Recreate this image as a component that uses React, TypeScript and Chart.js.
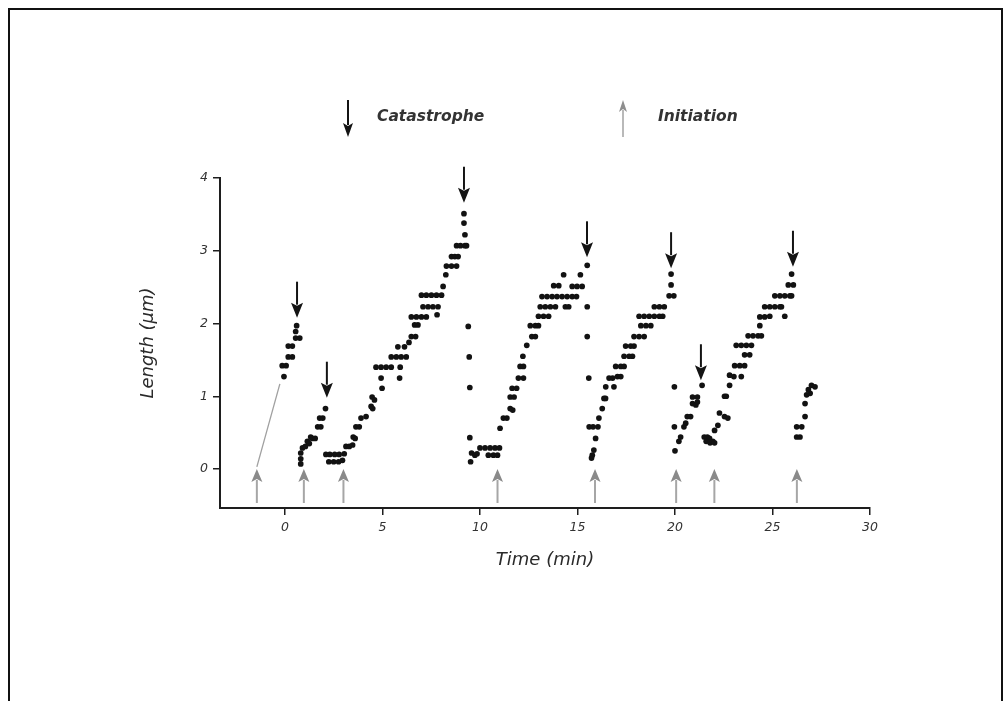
import React, { useEffect, useRef } from "react";
import { Chart, registerables } from "chart.js";

Chart.register(...registerables);

type Pt = [number, number];

// ---- text / axis data ----
const xTicks = [0, 5, 10, 15, 20, 25, 30];
const yTicks = [0, 1, 2, 3, 4];
const xTitle = "Time (min)";
const yTitle = "Length (µm)";
const legendLabels = ["Catastrophe", "Initiation"];

// ---- growth phases: [time (min), length (µm)] ----
const growth1: Pt[] = [
  [-0.05, 1.27], [-0.14, 1.42], [0.06, 1.42], [0.17, 1.54], [0.38, 1.54],
  [0.17, 1.69], [0.38, 1.69], [0.55, 1.8], [0.76, 1.8], [0.55, 1.89], [0.6, 1.97],
];

const growth2: Pt[] = [
  [0.81, 0.07], [0.81, 0.14], [0.81, 0.22], [0.9, 0.29], [1.05, 0.31],
  [1.15, 0.38], [1.25, 0.35], [1.32, 0.44], [1.4, 0.42], [1.55, 0.42],
  [1.68, 0.58], [1.84, 0.58], [1.78, 0.7], [1.94, 0.7], [2.08, 0.83],
];

const growth3: Pt[] = [
  [2.1, 0.2], [2.3, 0.2], [2.55, 0.2], [2.78, 0.2], [2.25, 0.1], [2.5, 0.1],
  [2.75, 0.1], [2.95, 0.12], [3.04, 0.21], [3.13, 0.31], [3.3, 0.31], [3.47, 0.33],
  [3.5, 0.44], [3.6, 0.42], [3.64, 0.58], [3.81, 0.58], [3.9, 0.7], [4.16, 0.72],
  [4.42, 0.86], [4.5, 0.83], [4.47, 0.99], [4.59, 0.95], [4.98, 1.11], [4.93, 1.25],
  [5.88, 1.25], [4.67, 1.4], [4.93, 1.4], [5.19, 1.4], [5.45, 1.4], [5.91, 1.4],
  [5.45, 1.54], [5.71, 1.54], [5.96, 1.54], [6.22, 1.54], [5.79, 1.68], [6.13, 1.68],
  [6.36, 1.74], [6.48, 1.82], [6.7, 1.82], [6.65, 1.98], [6.82, 1.98], [6.48, 2.09],
  [6.74, 2.09], [7.0, 2.09], [7.25, 2.09], [7.8, 2.12], [7.08, 2.23], [7.34, 2.23],
  [7.59, 2.23], [7.85, 2.23], [7.0, 2.39], [7.25, 2.39], [7.51, 2.39], [7.77, 2.39],
  [8.03, 2.39], [8.11, 2.51], [8.25, 2.67], [8.28, 2.79], [8.54, 2.79], [8.8, 2.79],
  [8.54, 2.92], [8.71, 2.92], [8.88, 2.92], [8.8, 3.07], [9.0, 3.07], [9.23, 3.07],
  [9.31, 3.07], [9.23, 3.22], [9.18, 3.38], [9.18, 3.51],
];

const shrink3: Pt[] = [[9.4, 1.96], [9.45, 1.54], [9.48, 1.12], [9.48, 0.43]];

const growth4: Pt[] = [
  [9.52, 0.1], [9.57, 0.22], [9.74, 0.19], [9.85, 0.21], [10.0, 0.29], [10.26, 0.29],
  [10.52, 0.29], [10.77, 0.29], [11.0, 0.29], [10.43, 0.19], [10.69, 0.19], [10.9, 0.19],
  [11.03, 0.56], [11.2, 0.7], [11.38, 0.7], [11.55, 0.83], [11.68, 0.81], [11.55, 0.99],
  [11.75, 0.99], [11.65, 1.11], [11.88, 1.11], [11.97, 1.25], [12.23, 1.25], [12.06, 1.41],
  [12.23, 1.41], [12.2, 1.55], [12.4, 1.7], [12.66, 1.82], [12.84, 1.82], [12.58, 1.97],
  [12.84, 1.97], [13.0, 1.97], [13.0, 2.1], [13.26, 2.1], [13.52, 2.1], [13.09, 2.23],
  [13.35, 2.23], [13.61, 2.23], [13.87, 2.23], [14.38, 2.23], [14.55, 2.23], [13.18, 2.37],
  [13.44, 2.37], [13.7, 2.37], [13.95, 2.37], [14.21, 2.37], [14.47, 2.37], [14.73, 2.37],
  [14.95, 2.37], [13.78, 2.52], [14.04, 2.52], [14.73, 2.51], [14.98, 2.51], [15.24, 2.51],
  [14.29, 2.67], [15.15, 2.67], [15.5, 2.8],
];

const shrink4: Pt[] = [[15.5, 2.23], [15.5, 1.82], [15.58, 1.25]];

const growth5: Pt[] = [
  [15.6, 0.58], [15.8, 0.58], [16.05, 0.58], [15.76, 0.19], [15.84, 0.26], [15.72, 0.15],
  [15.93, 0.42], [16.1, 0.7], [16.27, 0.83], [16.36, 0.97], [16.44, 0.97], [16.45, 1.13],
  [16.87, 1.13], [16.62, 1.25], [16.8, 1.25], [17.05, 1.27], [17.22, 1.27], [16.96, 1.41],
  [17.22, 1.41], [17.39, 1.41], [17.39, 1.55], [17.65, 1.55], [17.82, 1.55], [17.47, 1.69],
  [17.73, 1.69], [17.9, 1.69], [17.9, 1.82], [18.16, 1.82], [18.42, 1.82], [18.25, 1.97],
  [18.51, 1.97], [18.76, 1.97], [18.16, 2.1], [18.42, 2.1], [18.68, 2.1], [18.94, 2.1],
  [19.2, 2.1], [19.37, 2.1], [18.94, 2.23], [19.2, 2.23], [19.45, 2.23], [19.7, 2.38],
  [19.94, 2.38], [19.8, 2.53], [19.8, 2.68],
];

const shrink5: Pt[] = [[19.97, 1.13], [19.97, 0.58]];

const growth6: Pt[] = [
  [20.0, 0.25], [20.2, 0.38], [20.29, 0.44], [20.46, 0.58], [20.55, 0.63], [20.63, 0.72],
  [20.8, 0.72], [20.9, 0.9], [21.07, 0.88], [21.15, 0.92], [20.9, 0.99], [21.15, 0.99],
  [21.39, 1.15],
];

const growth7: Pt[] = [
  [21.5, 0.44], [21.66, 0.44], [21.77, 0.42], [21.6, 0.38], [21.8, 0.36], [21.94, 0.38],
  [22.03, 0.36], [22.03, 0.53], [22.2, 0.6], [22.28, 0.77], [22.54, 0.72], [22.71, 0.7],
  [22.54, 1.0], [22.63, 1.0], [22.8, 1.15], [22.8, 1.29], [23.02, 1.27], [23.4, 1.27],
  [23.06, 1.42], [23.32, 1.42], [23.57, 1.42], [23.57, 1.57], [23.83, 1.57], [23.14, 1.7],
  [23.4, 1.7], [23.66, 1.7], [23.92, 1.7], [23.75, 1.83], [24.0, 1.83], [24.26, 1.83],
  [24.43, 1.83], [24.35, 1.97], [24.35, 2.09], [24.6, 2.09], [24.86, 2.1], [25.63, 2.1],
  [24.6, 2.23], [24.86, 2.23], [25.12, 2.23], [25.38, 2.23], [25.46, 2.23], [25.12, 2.38],
  [25.38, 2.38], [25.63, 2.38], [25.89, 2.38], [25.98, 2.38], [25.81, 2.53], [26.07, 2.53],
  [25.98, 2.68],
];

const growth8: Pt[] = [
  [26.24, 0.44], [26.41, 0.44], [26.24, 0.58], [26.5, 0.58], [26.67, 0.72], [26.67, 0.9],
  [26.75, 1.02], [26.93, 1.04], [26.84, 1.09], [27.0, 1.15], [27.18, 1.13],
];

const guideLine: Pt[] = [[-1.44, 0.03], [-0.26, 1.17]];

// ---- event arrows ----
const catastropheTimes = [0.62, 2.15, 9.18, 15.49, 19.8, 21.33, 26.05];
const catastropheTipLengths = [2.08, 0.98, 3.66, 2.91, 2.76, 1.22, 2.78];
const initiationTimes = [-1.44, 0.97, 3.0, 10.9, 15.9, 20.06, 22.02, 26.25];
const initiationTipLength = 0;

const dotSeries: Pt[][] = [
  growth1, growth2, growth3, shrink3, growth4, shrink4, growth5, shrink5, growth6, growth7, growth8,
];

function drawArrow(
  ctx: CanvasRenderingContext2D,
  x: number,
  tipY: number,
  dir: number,
  headColor: string,
  shaftColor: string,
  len: number,
  headW: number,
  headH: number,
  shaftW: number
) {
  // dir = -1: points down (tail above tip); dir = 1: points up (tail below tip)
  const tailY = dir < 0 ? tipY - len : tipY + len;
  const bY = dir < 0 ? tipY - headH : tipY + headH;
  ctx.strokeStyle = shaftColor;
  ctx.lineWidth = shaftW;
  ctx.beginPath();
  ctx.moveTo(x, tailY);
  ctx.lineTo(x, dir < 0 ? bY + 2 : bY - 2);
  ctx.stroke();
  ctx.fillStyle = headColor;
  ctx.beginPath();
  ctx.moveTo(x, tipY);
  ctx.lineTo(x - headW / 2, bY);
  ctx.lineTo(x, bY + (dir < 0 ? 3 : -3));
  ctx.lineTo(x + headW / 2, bY);
  ctx.closePath();
  ctx.fill();
}

const arrowPlugin = {
  id: "eventArrows",
  afterDatasetsDraw(chart: any) {
    const { ctx, scales } = chart;
    const xs = scales.x;
    const ys = scales.y;
    ctx.save();
    catastropheTimes.forEach((t, i) => {
      const px = xs.getPixelForValue(t);
      const tip = ys.getPixelForValue(catastropheTipLengths[i]);
      drawArrow(ctx, px, tip, -1, "#141414", "#141414", 36, 12, 15, 2);
    });
    initiationTimes.forEach((t) => {
      const px = xs.getPixelForValue(t);
      const tip = ys.getPixelForValue(initiationTipLength);
      drawArrow(ctx, px, tip, 1, "#8a8a8a", "#a6a6a6", 34, 11, 13, 2);
    });
    // legend
    drawArrow(ctx, 348, 137, -1, "#141414", "#141414", 37, 10, 14, 2);
    drawArrow(ctx, 623, 100, 1, "#8e8e8e", "#a8a8a8", 37, 8, 12, 1.6);
    ctx.fillStyle = "#333";
    ctx.font = 'italic bold 15.5px "DejaVu Sans"';
    ctx.textBaseline = "middle";
    ctx.textAlign = "left";
    ctx.fillText(legendLabels[0], 377, 117);
    ctx.fillText(legendLabels[1], 658, 117);
    ctx.restore();
  },
};

export default function App() {
  const ref = useRef<HTMLCanvasElement | null>(null);

  useEffect(() => {
    if (!ref.current) return;
    const tickFont = { family: "DejaVu Sans", size: 12.5, style: "italic" as const };
    const titleFont = { family: "DejaVu Sans", size: 18, style: "italic" as const };
    const datasets: any[] = dotSeries.map((s) => ({
      type: "scatter",
      data: s.map(([x, y]) => ({ x, y })),
      pointRadius: 2.85,
      pointBackgroundColor: "#121212",
      pointBorderWidth: 0,
      showLine: false,
    }));
    datasets.push({
      type: "line",
      data: guideLine.map(([x, y]) => ({ x, y })),
      borderColor: "#a0a0a0",
      borderWidth: 1.3,
      pointRadius: 0,
      showLine: true,
      fill: false,
    });
    const chart = new Chart(ref.current, {
      type: "scatter",
      data: { datasets },
      plugins: [arrowPlugin],
      options: {
        responsive: false,
        animation: false,
        devicePixelRatio: 1,
        layout: { padding: { left: 130, right: 135, top: 178, bottom: 123 } },
        plugins: { legend: { display: false }, tooltip: { enabled: false } },
        scales: {
          x: {
            type: "linear",
            min: -3.33,
            max: 30,
            afterBuildTicks: (s: any) => {
              s.ticks = xTicks.map((v) => ({ value: v }));
            },
            afterFit: (s: any) => {
              s.height = 70;
            },
            border: { display: true, color: "#1e1e1e", width: 2 },
            grid: {
              display: true,
              drawOnChartArea: false,
              drawTicks: true,
              tickLength: 7,
              color: "#1e1e1e",
              lineWidth: 1.5,
            },
            ticks: { font: tickFont, color: "#333", padding: 5, maxRotation: 0, autoSkip: false },
            title: {
              display: true,
              text: xTitle,
              font: titleFont,
              color: "#2a2a2a",
              padding: { top: 0, bottom: 7 },
            },
          },
          y: {
            type: "linear",
            min: -0.536,
            max: 4,
            afterBuildTicks: (s: any) => {
              s.ticks = yTicks.map((v) => ({ value: v }));
            },
            afterFit: (s: any) => {
              s.width = 90;
            },
            border: { display: true, color: "#1e1e1e", width: 2 },
            grid: {
              display: true,
              drawOnChartArea: false,
              drawTicks: true,
              tickLength: 7,
              color: "#1e1e1e",
              lineWidth: 1.5,
            },
            ticks: { font: tickFont, color: "#333", padding: 5, autoSkip: false },
            title: {
              display: true,
              text: yTitle,
              font: titleFont,
              color: "#2a2a2a",
              padding: { top: 8, bottom: 0 },
            },
          },
        },
      } as any,
    });
    return () => chart.destroy();
  }, []);

  return (
    <div>
      <canvas
        ref={ref}
        width={1005}
        height={701}
        style={{ position: "fixed", left: 0, top: 0, width: 1005, height: 701 }}
      />
      <div
        style={{
          position: "fixed",
          left: 8,
          top: 8,
          width: 995,
          height: 760,
          boxSizing: "border-box",
          borderTop: "2px solid #111",
          borderLeft: "2px solid #111",
          borderRight: "2px solid #111",
          pointerEvents: "none",
        }}
      />
    </div>
  );
}
